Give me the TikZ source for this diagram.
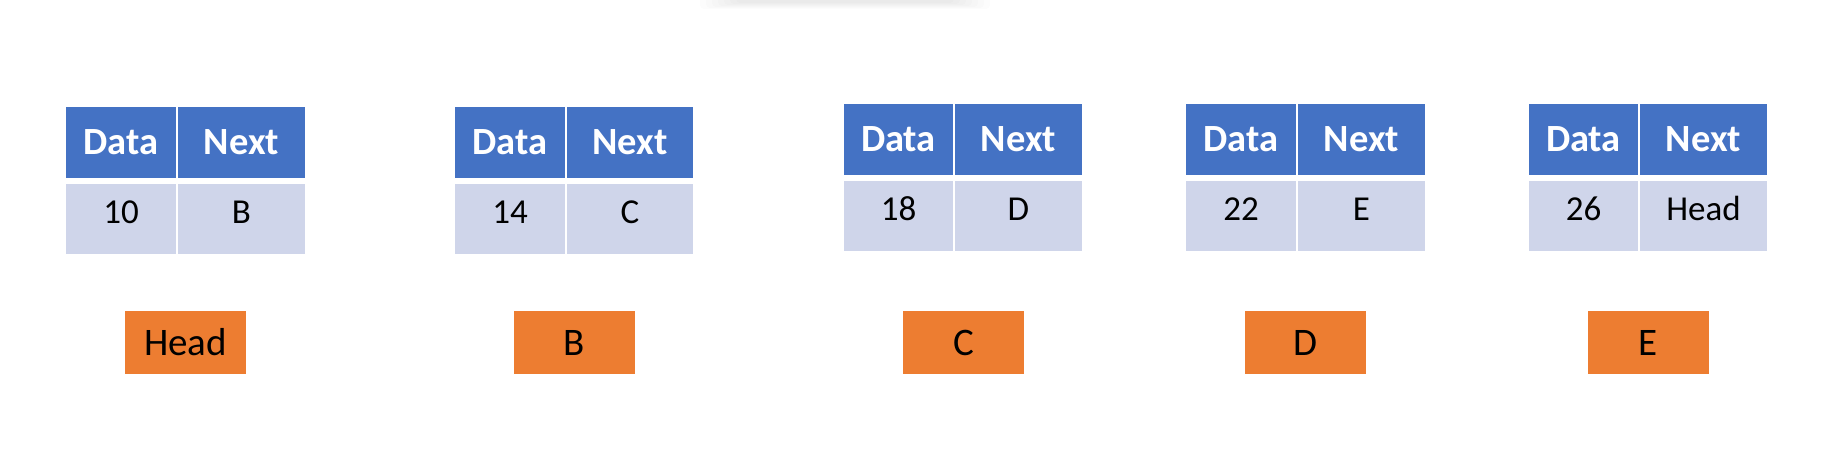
\documentclass[tikz,border=0pt]{standalone}
\usepackage{fontspec}
\setmainfont{Carlito}
\definecolor{hdr}{HTML}{4472C4}
\definecolor{bdy}{HTML}{CFD5EA}
\definecolor{org}{HTML}{ED7D31}
\begin{document}
\begin{tikzpicture}[x=1pt,y=-1pt,
  cellbase/.style={anchor=north west, inner sep=0pt, outer sep=0pt},
  hdrcell/.style={cellbase, fill=hdr, text=white, font=\fontsize{38.5}{40}\selectfont\bfseries, minimum height=71pt, text height=25pt, text depth=2pt},
  bdycell/.style={cellbase, fill=bdy, text=black, font=\fontsize{35}{38}\selectfont, minimum height=70pt, text height=22pt, text depth=14pt},
  tagbox/.style={cellbase, fill=org, text=black, font=\fontsize{39}{42}\selectfont, minimum width=121pt, minimum height=63pt, text height=26pt, text depth=1pt}]
\useasboundingbox (0,0) rectangle (1840,463);
\foreach \k in {0,...,6}{
  \fill[black, opacity=0.012, rounded corners=4pt] ({700+6*\k},-6) rectangle ({990-6*\k},{9-\k});
}
\foreach \l/\m/\r/\t/\val/\nx/\tx/\tl [count=\i] in {
   66/177/305/107/10/B/125/Head,
   455/566/693/107/14/C/514/B,
   844/954/1082/104/18/D/903/C,
   1186/1297/1425/104/22/E/1245/D,
   1529/1639/1767/104/26/Head/1588/E}{
  \pgfmathsetmacro\cwd{\m-\l-1}
  \pgfmathsetmacro\cwn{\r-\m-1}
  \pgfmathsetmacro\xn{\m+1}
  \pgfmathsetmacro\tb{\t+77}
  \node[hdrcell, minimum width=\cwd pt] (h\i d) at (\l,\t) {Data};
  \node[hdrcell, minimum width=\cwn pt] (h\i n) at (\xn,\t) {Next};
  \node[bdycell, minimum width=\cwd pt] (b\i d) at (\l,\tb) {\val};
  \node[bdycell, minimum width=\cwn pt] (b\i n) at (\xn,\tb) {\nx};
  \node[tagbox] (t\i) at (\tx,311) {\tl};
}
\end{tikzpicture}
\end{document}
